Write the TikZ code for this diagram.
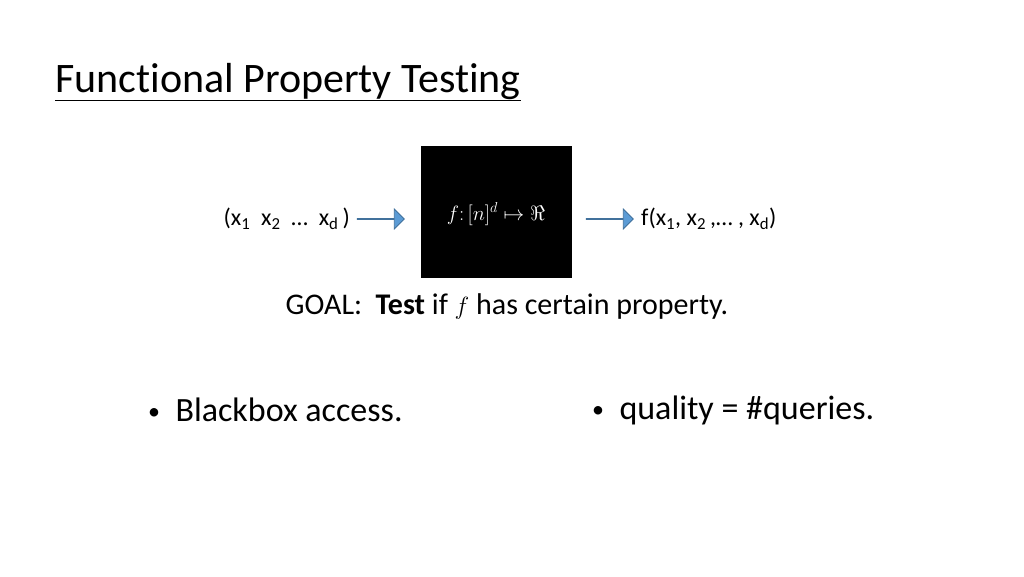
\documentclass[tikz,border=0pt]{standalone}
\usepackage{fontspec}
\setmainfont{Carlito}[RawFeature=-liga]
\usetikzlibrary{shapes.arrows}
\begin{document}
\begin{tikzpicture}[x=1pt,y=-1pt,
  arr/.style={single arrow,fill={rgb,255:red,91;green,155;blue,213},draw={rgb,255:red,65;green,113;blue,156},line width=0.8pt,minimum height=47pt,minimum width=20pt,single arrow head extend=7pt,single arrow head indent=0pt,inner sep=0pt,text width=0pt},
  lbl/.style={font=\fontsize{24}{26}\selectfont,inner sep=0pt}]
\useasboundingbox (0,0) rectangle (1024,576);
\node[anchor=base west,font=\fontsize{42}{44}\selectfont,inner sep=0pt] (title) at (55,92) {\underline{Functional Property Testing}};
\node[fill=black,minimum width=151pt,minimum height=132pt,inner sep=0pt] (box) at (496.5,212) {};
\node[text=white,font=\fontsize{21}{23}\selectfont] (f) at (496,214) {$f\colon[n]^d \mapsto \Re$};
\node[arr] (a1) at (380.5,219) {};
\node[arr] (a2) at (609.5,219) {};
\node[lbl,anchor=east] (in) at (350,219) {(x\textsubscript{1}\ \ x\textsubscript{2}\ \ …\ \ x\textsubscript{d}\,)};
\node[lbl,anchor=west] (out) at (641,219) {f(x\textsubscript{1}, x\textsubscript{2}\,,… , x\textsubscript{d})};
\node[font=\fontsize{30}{32}\selectfont,inner sep=0pt] (goal) at (507,306) {GOAL:\ \ \textbf{Test} if $f$ has certain property.};
\node[anchor=west,font=\fontsize{34}{36}\selectfont,inner sep=0pt] (b1) at (148,410) {{\fontsize{24}{26}\selectfont\raisebox{2pt}{•}}\ \ Blackbox access.};
\node[anchor=west,font=\fontsize{34}{36}\selectfont,inner sep=0pt] (b2) at (592,410) {{\fontsize{24}{26}\selectfont\raisebox{2pt}{•}}\ \ quality = \#queries.};
\end{tikzpicture}
\end{document}
